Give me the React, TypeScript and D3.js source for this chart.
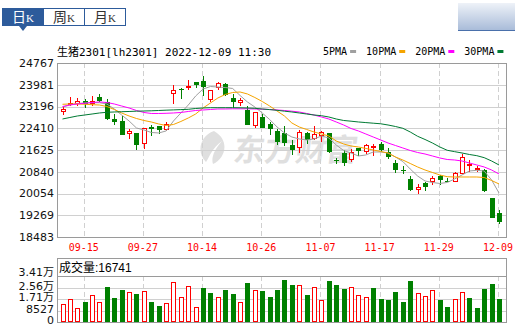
import React, { useRef, useEffect } from "react";
import * as d3 from "d3";

// trading days shown (MM-DD)
const dates = [
  "09-09", "09-13", "09-14", "09-15", "09-16", "09-19", "09-20", "09-21", "09-22", "09-23",
  "09-26", "09-27", "09-28", "09-29", "09-30", "10-10", "10-11", "10-12", "10-13", "10-14",
  "10-17", "10-18", "10-19", "10-20", "10-21", "10-24", "10-25", "10-26", "10-27", "10-28",
  "10-31", "11-01", "11-02", "11-03", "11-04", "11-07", "11-08", "11-09", "11-10", "11-11",
  "11-14", "11-15", "11-16", "11-17", "11-18", "11-21", "11-22", "11-23", "11-24", "11-25",
  "11-28", "11-29", "11-30", "12-01", "12-02", "12-05", "12-06", "12-07", "12-08", "12-09",
];

const open = [
  23009, 23276, 23298, 23395, 23298, 23539, 23371, 22745, 22673, 22214,
  22239, 21831, 22445, 22481, 22358, 23659, 23839, 23853, 24070, 24117,
  23442, 23853, 24020, 23514, 23323, 23059, 22503, 22817, 22575, 22311,
  22239, 21806, 21687, 22239, 22023, 22142, 22239, 21264, 21517, 21254,
  21709, 21565, 21700, 21831, 21542, 21156, 20902, 20578, 20170, 20434,
  20459, 20676, 20488, 20459, 20770, 21084, 20893, 20914, 19903, 19350,
];
const high = [
  23168, 23539, 23492, 23467, 23564, 23637, 23467, 22936, 22864, 22384,
  22239, 22431, 22528, 22481, 22626, 23973, 23853, 24142, 24070, 24287,
  23804, 24092, 24045, 23659, 23514, 23203, 23009, 22914, 22647, 22384,
  22481, 21976, 22358, 22264, 22503, 22311, 22239, 21347, 21614, 21662,
  21709, 21831, 21831, 21903, 21709, 21254, 21037, 20676, 20386, 20481,
  20698, 20723, 20604, 20842, 21492, 21275, 21058, 20940, 19903, 19469,
];
const low = [
  22901, 23225, 23225, 23153, 23225, 23348, 22698, 22528, 22167, 22023,
  21615, 21662, 22142, 22214, 22311, 23298, 23467, 23781, 23853, 23586,
  23370, 23804, 23586, 23131, 23203, 22528, 22409, 22409, 22167, 21806,
  21759, 21445, 21517, 21853, 21976, 21925, 21517, 21109, 21037, 21203,
  21420, 21492, 21420, 21543, 21300, 20795, 20770, 20145, 20048, 20145,
  20362, 20362, 20459, 20459, 20748, 20842, 20842, 20120, 19159, 18964,
];
const close = [
  23106, 23323, 23395, 23276, 23395, 23395, 22745, 22647, 22167, 22311,
  21806, 22409, 22400, 22358, 22575, 23781, 23817, 23926, 23973, 23900,
  23781, 24045, 23612, 23348, 23420, 22528, 22987, 22409, 22384, 21925,
  21878, 21636, 22286, 21976, 22214, 22264, 21542, 21239, 21156, 21542,
  21589, 21800, 21775, 21615, 21373, 20914, 20878, 20170, 20289, 20300,
  20626, 20531, 20470, 20795, 21373, 21120, 20986, 20145, 19159, 19037,
];
const prevClose = 22990;

const volume = [
  13125, 17055, 10604, 15052, 20020, 14607, 25952, 18018, 23950, 22022,
  20985, 22986, 15052, 12086, 14088, 29882, 18537, 26471, 11122, 25433,
  21503, 18537, 23950, 20985, 15052, 28918, 23950, 22986, 18537, 23950,
  31365, 27435, 27435, 20020, 25952, 16090, 30401, 27435, 24469, 25952,
  20020, 18537, 25433, 17055, 16535, 22467, 15052, 30401, 21503, 19057,
  23505, 16535, 11122, 17055, 22022, 18018, 10604, 24469, 28399, 16741,
];

const ma5 = [
  23178, 23250, 23305, 23323, 23333, 23333, 23287, 23106, 22889, 22673,
  22420, 22349, 22258, 22240, 22312, 22673, 22962, 23250, 23575, 23828,
  23918, 23900, 23882, 23846, 23594, 23359, 23178, 22962, 22727, 22456,
  22240, 22095, 22023, 21987, 22023, 22131, 22059, 21806, 21607, 21517,
  21409, 21445, 21553, 21553, 21517, 21373, 21210, 20939, 20686, 20506,
  20452, 20416, 20452, 20578, 20723, 20867, 20893, 20867, 20542, 20073,
];
const ma10 = [
  23276, 23287, 23287, 23276, 23262, 23250, 23196, 23088, 22962, 22853,
  22763, 22691, 22637, 22565, 22510, 22546, 22655, 22781, 22925, 23142,
  23323, 23503, 23630, 23702, 23720, 23648, 23521, 23377, 23214, 23034,
  22853, 22601, 22456, 22366, 22276, 22203, 22131, 21951, 21842, 21770,
  21734, 21680, 21626, 21571, 21517, 21373, 21264, 21138, 21012, 20903,
  20813, 20723, 20661, 20650, 20650, 20650, 20650, 20632, 20524, 20398,
];
const ma20 = [
  23196, 23250, 23287, 23312, 23341, 23359, 23341, 23287, 23214, 23142,
  23052, 22980, 22944, 22944, 22951, 22962, 22980, 23016, 23052, 23070,
  23088, 23106, 23106, 23113, 23113, 23113, 23106, 23099, 23088, 23070,
  23052, 23027, 22998, 22944, 22889, 22817, 22745, 22637, 22528, 22402,
  22312, 22203, 22095, 21987, 21878, 21788, 21698, 21608, 21535, 21481,
  21409, 21337, 21282, 21264, 21228, 21156, 21084, 21012, 20903, 20759,
];
const ma30 = [
  22745, 22799, 22853, 22889, 22925, 22962, 22987, 22998, 23008, 23016,
  23027, 23034, 23041, 23052, 23063, 23073, 23084, 23095, 23124, 23142,
  23153, 23153, 23153, 23153, 23149, 23142, 23131, 23106, 23084, 23059,
  23027, 22998, 22962, 22925, 22889, 22864, 22817, 22745, 22691, 22665,
  22637, 22615, 22593, 22572, 22528, 22474, 22409, 22276, 22120, 22005,
  21878, 21734, 21615, 21565, 21517, 21463, 21420, 21348, 21228, 21084,
];

const maNames = ["5PMA", "10PMA", "20PMA", "30PMA"];
const maColors = ["#a0a0a0", "#f5a400", "#ff00ff", "#007a33"];

const xTickLabels = ["09-15", "09-27", "10-14", "10-26", "11-07", "11-17", "11-29", "12-09"];
const priceTicks = [24767, 23981, 23196, 22410, 21625, 20840, 20054, 19269, 18483];
const volTicks = [0, 8527, 17054, 25581, 34108];
const volTickLabels = ["0", "8527", "1.71万", "2.56万", "3.41万"];
const tabs = ["日", "周", "月"];

const RED = "#ff0000";
const GREEN = "#008000";
const BLUE = "#2d5b9b";
const GRID = "#d0d0d0";
const BORDER = "#9a9a9a";

const App = () => {
  const svgRef = useRef<SVGSVGElement>(null);

  useEffect(() => {
    const width = 515;
    const height = 329;
    const plot = { left: 57, right: 507, top: 63, bottom: 237 };
    const vol = { boxTop: 258, top: 276, bottom: 322 };

    const svg = d3.select(svgRef.current).attr("width", width).attr("height", height);
    svg.selectAll("*").remove();

    const x = d3.scalePoint<string>().domain(dates).range([62.5, 499]);
    const y = d3
      .scaleLinear()
      .domain([priceTicks[priceTicks.length - 1], priceTicks[0]])
      .range([plot.bottom, plot.top]);
    const yv = d3
      .scaleLinear()
      .domain([0, volTicks[volTicks.length - 1]])
      .range([vol.bottom, vol.top]);

    const px = (i: number) => Math.round(x(dates[i]) as number);
    const crisp = (v: number) => Math.round(v) + 0.5;

    svg.append("rect").attr("width", width).attr("height", height).attr("fill", "#fff");

    // top-right bar
    const defs = svg.append("defs");
    const grad = defs
      .append("linearGradient")
      .attr("id", "tr")
      .attr("x1", 0)
      .attr("y1", 0)
      .attr("x2", 0)
      .attr("y2", 1);
    grad.append("stop").attr("offset", "0%").attr("stop-color", "#eef2f8");
    grad.append("stop").attr("offset", "100%").attr("stop-color", "#a9bcd9");
    svg.append("rect").attr("x", 458).attr("y", 3).attr("width", 57).attr("height", 27).attr("fill", "url(#tr)");
    svg.append("line").attr("x1", 458).attr("x2", 515).attr("y1", 30.5).attr("y2", 30.5).attr("stroke", "#4a70ab");

    // tabs
    const tabW = 41;
    const tg = svg.append("g").attr("transform", "translate(2.5,8.5)");
    tabs.forEach((t, k) => {
      tg.append("rect")
        .attr("x", k * tabW)
        .attr("y", 0)
        .attr("width", tabW)
        .attr("height", 17)
        .attr("fill", k === 0 ? BLUE : "#fff")
        .attr("stroke", BLUE);
      const txt = tg
        .append("text")
        .attr("x", k * tabW + tabW / 2)
        .attr("y", 13.5)
        .attr("text-anchor", "middle")
        .attr("fill", k === 0 ? "#fff" : "#333");
      txt.append("tspan").attr("font-family", "Noto Sans CJK SC").attr("font-size", 14).text(t);
      txt.append("tspan").attr("font-family", "Liberation Serif").attr("font-size", 11).text("K");
    });
    svg.append("path").attr("d", "M19,26 L27,26 L23,31 Z").attr("fill", BLUE);

    // header
    svg
      .append("text")
      .attr("x", 57)
      .attr("y", 56)
      .attr("font-family", "DejaVu Sans Mono, Noto Sans CJK SC")
      .attr("font-size", 11)
      .attr("fill", "#000")
      .text("生猪2301[lh2301] 2022-12-09 11:30");

    // legend
    let lx = 323;
    maNames.forEach((name, k) => {
      const t = svg
        .append("text")
        .attr("x", lx)
        .attr("y", 55)
        .attr("font-family", "DejaVu Sans Mono")
        .attr("font-size", 10)
        .attr("fill", "#000")
        .text(name);
      const w = (t.node() as SVGTextElement).getComputedTextLength();
      svg
        .append("rect")
        .attr("x", lx + w + 3)
        .attr("y", 50)
        .attr("width", 6)
        .attr("height", 3)
        .attr("fill", maColors[k]);
      lx += w + 3 + 6 + 10;
    });

    // watermark
    const wm = svg.append("g").attr("fill", "#dcdcdc").attr("opacity", 0.9);
    wm.append("path")
      .attr(
        "d",
        "M214,131 C200,136 196,152 206,162 C210,156 212,148 222,141 C214,150 211,158 213,164 C226,158 230,140 214,131 Z"
      );
    wm.append("text")
      .attr("x", 233)
      .attr("y", 161)
      .attr("font-family", "Noto Sans CJK SC")
      .attr("font-weight", "bold")
      .attr("font-size", 31)
      .attr("transform", "skewX(-8) translate(22,0)")
      .text("东方财富");

    // main grid
    const grid = svg.append("g");
    priceTicks.forEach((t) => {
      grid
        .append("line")
        .attr("x1", plot.left)
        .attr("x2", plot.right)
        .attr("y1", crisp(y(t)))
        .attr("y2", crisp(y(t)))
        .attr("stroke", GRID);
    });
    xTickLabels.forEach((d) => {
      const xx = crisp(x(d) as number) - 1;
      grid
        .append("line")
        .attr("x1", xx)
        .attr("x2", xx)
        .attr("y1", plot.top)
        .attr("y2", plot.bottom)
        .attr("stroke", GRID)
        .attr("stroke-dasharray", "5,3");
      grid
        .append("line")
        .attr("x1", xx)
        .attr("x2", xx)
        .attr("y1", vol.top)
        .attr("y2", vol.bottom)
        .attr("stroke", GRID)
        .attr("stroke-dasharray", "5,3");
    });
    volTicks.slice(1, -1).forEach((t) => {
      grid
        .append("line")
        .attr("x1", plot.left)
        .attr("x2", plot.right)
        .attr("y1", crisp(yv(t)))
        .attr("y2", crisp(yv(t)))
        .attr("stroke", GRID);
    });

    // candles
    const cg = svg.append("g");
    dates.forEach((d, i) => {
      const c = px(i);
      const up = close[i] >= open[i];
      const col = up ? RED : GREEN;
      const top = Math.round(y(Math.max(open[i], close[i])));
      const bot = Math.round(y(Math.min(open[i], close[i])));
      const hi = Math.round(y(high[i]));
      const lo = Math.round(y(low[i]));
      if (up) {
        cg.append("line").attr("x1", c + 0.5).attr("x2", c + 0.5).attr("y1", hi).attr("y2", top).attr("stroke", col);
        cg.append("line").attr("x1", c + 0.5).attr("x2", c + 0.5).attr("y1", bot).attr("y2", lo).attr("stroke", col);
        if (bot - top < 2) {
          cg.append("rect").attr("x", c - 2).attr("y", top).attr("width", 5).attr("height", Math.max(bot - top, 1) + 1).attr("fill", col);
        } else {
          cg.append("rect")
            .attr("x", c - 1.5)
            .attr("y", top + 0.5)
            .attr("width", 4)
            .attr("height", bot - top - 1)
            .attr("fill", "#fff")
            .attr("stroke", col);
        }
      } else {
        cg.append("line").attr("x1", c + 0.5).attr("x2", c + 0.5).attr("y1", hi).attr("y2", lo).attr("stroke", col);
        cg.append("rect")
          .attr("x", c - 2)
          .attr("y", top)
          .attr("width", 5)
          .attr("height", Math.max(bot - top, 1))
          .attr("fill", col);
      }
    });

    // moving averages
    const line = d3
      .line<number>()
      .x((_, i) => x(dates[i]) as number)
      .y((v) => y(v));
    [ma5, ma10, ma20, ma30].forEach((s, k) => {
      svg
        .append("path")
        .attr("d", line(s))
        .attr("fill", "none")
        .attr("stroke", maColors[k])
        .attr("stroke-width", 1);
    });

    // main border
    svg
      .append("rect")
      .attr("x", plot.left + 0.5)
      .attr("y", plot.top + 0.5)
      .attr("width", plot.right - plot.left - 1)
      .attr("height", plot.bottom - plot.top)
      .attr("fill", "none")
      .attr("stroke", BORDER);

    // price axis labels
    svg
      .append("g")
      .selectAll("text")
      .data(priceTicks)
      .join("text")
      .attr("x", 54)
      .attr("y", (d) => y(d))
      .attr("dy", "0.36em")
      .attr("text-anchor", "end")
      .attr("font-family", "DejaVu Sans")
      .attr("font-size", 11)
      .attr("fill", "#111")
      .text((d) => d);

    // date labels
    svg
      .append("g")
      .selectAll("text")
      .data(xTickLabels)
      .join("text")
      .attr("x", (d) => (x(d) as number) - 1)
      .attr("y", 251)
      .attr("text-anchor", "middle")
      .attr("font-family", "DejaVu Sans Mono")
      .attr("font-size", 10)
      .attr("fill", RED)
      .text((d) => d);

    // volume bars
    const vg = svg.append("g");
    volume.forEach((v, i) => {
      const c = px(i);
      const prev = i === 0 ? prevClose : close[i - 1];
      const up = close[i] >= prev;
      const top = Math.round(yv(v));
      if (up) {
        vg.append("rect")
          .attr("x", c - 1.5)
          .attr("y", top + 0.5)
          .attr("width", 4)
          .attr("height", vol.bottom - 1 - top)
          .attr("fill", "#fff")
          .attr("stroke", RED);
      } else {
        vg.append("rect")
          .attr("x", c - 2)
          .attr("y", top)
          .attr("width", 5)
          .attr("height", vol.bottom - top)
          .attr("fill", GREEN);
      }
    });

    // volume box
    svg
      .append("rect")
      .attr("x", plot.left + 0.5)
      .attr("y", vol.boxTop + 0.5)
      .attr("width", plot.right - plot.left - 1)
      .attr("height", vol.bottom - vol.boxTop)
      .attr("fill", "none")
      .attr("stroke", BORDER);
    svg
      .append("line")
      .attr("x1", plot.left)
      .attr("x2", plot.right)
      .attr("y1", vol.top + 0.5)
      .attr("y2", vol.top + 0.5)
      .attr("stroke", BORDER);

    svg
      .append("text")
      .attr("x", 59)
      .attr("y", 272)
      .attr("font-family", "Liberation Sans, Noto Sans CJK SC")
      .attr("font-size", 12)
      .attr("fill", "#000")
      .text("成交量:" + volume[volume.length - 1]);

    const volMax = volTicks[volTicks.length - 1];
    svg
      .append("g")
      .selectAll("text")
      .data(volTicks)
      .join("text")
      .attr("x", 54)
      .attr("y", (d) => (d === volMax ? vol.top : yv(d) + 2))
      .attr("text-anchor", "end")
      .attr("font-family", "DejaVu Sans, Noto Sans CJK SC")
      .attr("font-size", 11)
      .attr("fill", "#111")
      .text((d, k) => volTickLabels[k]);
  }, []);

  return <svg ref={svgRef} style={{ position: "absolute", left: 0, top: 0 }} />;
};

export default App;
